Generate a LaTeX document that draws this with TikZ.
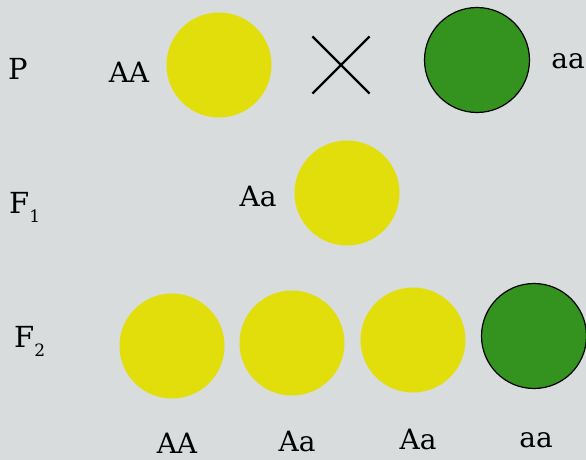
\documentclass[tikz,border=0pt]{standalone}
\usepackage{fontspec}
\setmainfont{DejaVu Serif}
\usetikzlibrary{shapes.misc}
\definecolor{bgc}{RGB}{216,220,221}
\definecolor{yel}{RGB}{226,222,12}
\definecolor{grn}{RGB}{52,146,30}
\begin{document}
\begin{tikzpicture}[x=1pt,y=-1pt,
  pea/.style={circle, inner sep=0pt, minimum size=105pt},
  ypea/.style={pea, fill=yel},
  gpea/.style={pea, fill=grn, draw=black, line width=1.2pt},
  lbl/.style={anchor=base, inner sep=0pt, font=\fontsize{28}{28}\selectfont},
  gen/.style={anchor=base west, inner sep=0pt, font=\fontsize{29}{29}\selectfont}]
\fill[bgc] (0,0) rectangle (586,460);
\useasboundingbox (0,0) rectangle (586,460);
% P row
\node[gen] (P) at (8,80) {P};
\node[lbl] (pAA) at (129,82) {AA};
\node[ypea] (pY) at (219,65) {};
\node[cross out, draw=black, line width=2.2pt, minimum size=55pt, inner sep=0pt] (x) at (341,65) {};
\node[gpea] (pG) at (477,60) {};
\node[lbl] (paa) at (568,68) {aa};
% F1 row
\node[gen] (F1) at (9,213) {F\raisebox{-0.33em}{\fontsize{17}{17}\selectfont 1}};
\node[lbl] (fAa) at (258,206) {Aa};
\node[ypea] (fY) at (347,193) {};
% F2 row
\node[gen] (F2) at (14,347) {F\raisebox{-0.33em}{\fontsize{17}{17}\selectfont 2}};
\node[ypea] (s1) at (172,346) {};
\node[ypea] (s2) at (292,343) {};
\node[ypea] (s3) at (413,340) {};
\node[gpea] (s4) at (534,336) {};
\node[lbl] (l1) at (177,453) {AA};
\node[lbl] (l2) at (297,451) {Aa};
\node[lbl] (l3) at (418,449) {Aa};
\node[lbl] (l4) at (536,447) {aa};
\end{tikzpicture}
\end{document}
